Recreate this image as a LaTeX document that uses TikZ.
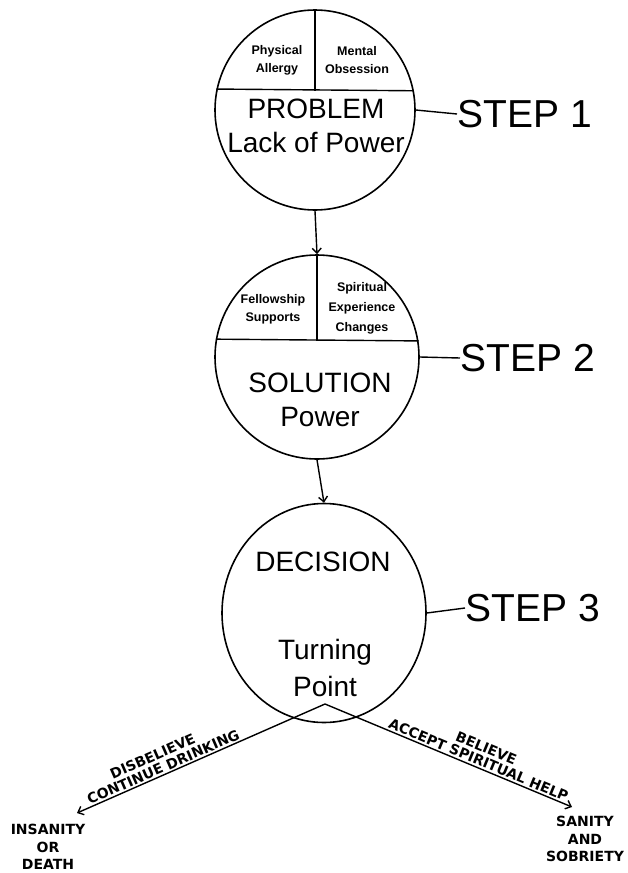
\documentclass[tikz,border=0pt]{standalone}
\usepackage{fontspec}
\setmainfont{Liberation Sans}
\newfontfamily\letterfont{DejaVu Sans}
\usetikzlibrary{arrows.meta, shapes.geometric}
\tikzset{>={Straight Barb[length=5pt,width=9pt]}}

\begin{document}
\begin{tikzpicture}[x=1pt, y=-1pt, line width=1.4pt,
    circ/.style={circle, draw, inner sep=0pt, line width=1.6pt},
    bigtext/.style={align=center, font=\fontsize{28}{34}\selectfont},
    smalltext/.style={align=center, font=\bfseries\fontsize{12.5}{18}\selectfont},
    steptext/.style={anchor=west, inner sep=0pt, font=\fontsize{39}{44}\selectfont},
    endtext/.style={align=center, font=\letterfont\bfseries\fontsize{14}{17.5}\selectfont},
    pathtext/.style={sloped, above, inner sep=1.5pt, font=\letterfont\bfseries\fontsize{14}{16}\selectfont}]
    \useasboundingbox (0,0) rectangle (627,873);
    \node[circ, minimum size=200pt] (problem) at (315,110) {};
    \draw (problem.168.46) -- (problem.11.54);
    \draw (problem.north) -- (problem.north |- problem.11.54);
    \node[smalltext] (allergy) at (277,60) {Physical\\Allergy};
    \node[smalltext] (obsession) at (357,60) {Mental\\Obsession};
    \node[bigtext] (problemtext) at (316,126) {PROBLEM\\Lack of Power};
    \node[steptext] (step1) at (457,114) {STEP 1};
    \draw (problem.east) -- (step1.west);
    \node[circ, minimum size=204pt] (solution) at (317,357) {};
    \draw (solution.170.4) -- (solution.9.6);
    \draw (solution.north) -- (solution.north |- solution.9.6);
    \node[smalltext] (fellowship) at (273,309) {Fellowship\\Supports};
    \node[smalltext, font=\bfseries\fontsize{12.5}{20}\selectfont] (spiritual) at (362,308) {Spiritual\\Experience\\Changes};
    \node[bigtext] (solutiontext) at (320,400) {SOLUTION\\Power};
    \node[steptext] (step2) at (460,358) {STEP 2};
    \draw (solution.east) -- (step2.west);
    \draw[->] (problem.south) -- (solution.north);
    \node[ellipse, draw, inner sep=0pt, line width=1.6pt, minimum width=204pt, minimum height=219pt] (decision) at (324,613) {};
    \node[bigtext] (decisiontext) at (323,562) {DECISION};
    \node[bigtext, font=\fontsize{28}{37}\selectfont] (turning) at (325,668) {Turning\\Point};
    \node[steptext] (step3) at (465,608) {STEP 3};
    \draw (decision.east) -- (step3.west);
    \draw[->] (solution.south) -- (decision.north);
    \coordinate (apex) at (325,704);
    \coordinate (tipL) at (77,813);
    \coordinate (tipR) at (572,807);
    \node[endtext] (insanity) at (48,847) {INSANITY\\OR\\DEATH};
    \node[endtext] (sanity) at (585,839) {SANITY\\AND\\SOBRIETY};
    \draw[<-] (tipL) -- (apex) node[pathtext, pos=0.36] (drinking) {CONTINUE DRINKING}
        node[pathtext, pos=0.34, above=14pt] (disbelieve) {DISBELIEVE};
    \draw[->] (apex) -- (tipR) node[pathtext, pos=0.61] (accept) {ACCEPT SPIRITUAL HELP}
        node[pathtext, pos=0.62, above=14pt] (believe) {BELIEVE};
\end{tikzpicture}
\end{document}
